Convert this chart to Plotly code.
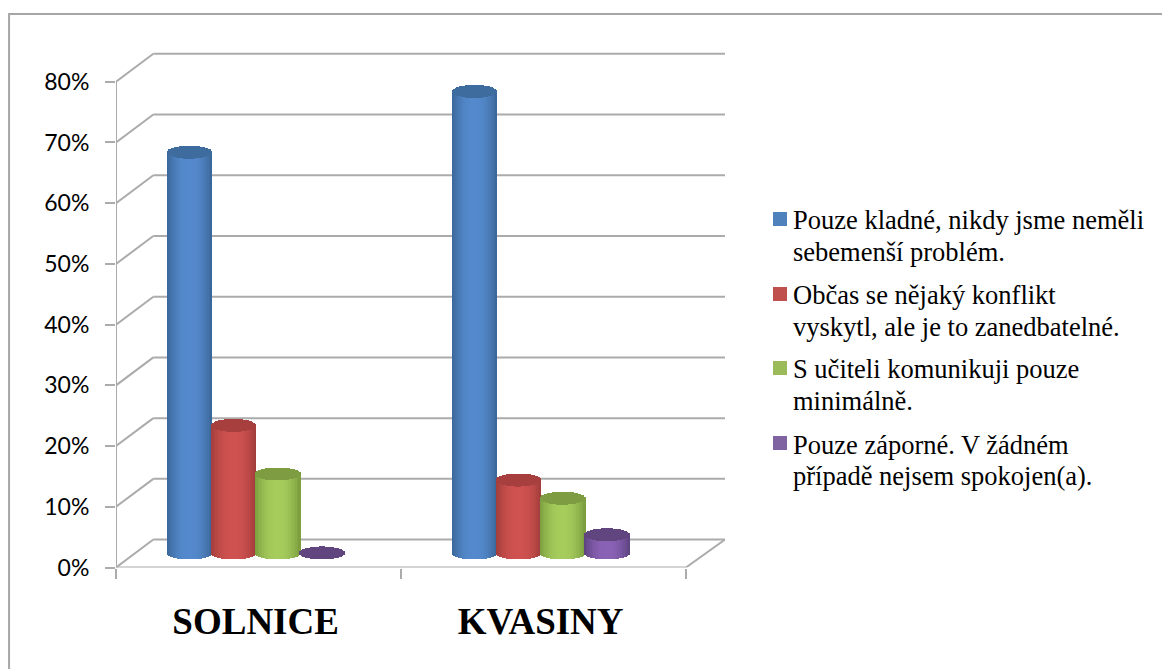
import math
import plotly.graph_objects as go

W, H = 1162, 669

categories = ['SOLNICE', 'KVASINY']
series_lines = [
    ['Pouze kladné, nikdy jsme neměli', 'sebemenší problém.'],
    ['Občas se nějaký konflikt', 'vyskytl, ale je to zanedbatelné.'],
    ['S učiteli komunikuji pouze', 'minimálně.'],
    ['Pouze záporné. V žádném', 'případě nejsem spokojen(a).'],
]
blue_vals = [66, 76]
red_vals = [21, 12]
green_vals = [13, 9]
purple_vals = [0, 3]
y_ticks = [0, 10, 20, 30, 40, 50, 60, 70, 80]

series_vals = [blue_vals, red_vals, green_vals, purple_vals]
# legend, edge, centre, cap
palette = [
    ('#4F81BD', (58, 100, 150), (84, 138, 205), (63, 108, 159)),
    ('#C0504D', (158, 60, 58), (208, 82, 80), (166, 63, 61)),
    ('#9BBB59', (122, 156, 62), (166, 204, 92), (126, 156, 66)),
    ('#8064A2', (92, 66, 126), (138, 98, 181), (96, 69, 127)),
]

# fake 3d geometry in axis units (1 x unit = one category, y unit = percent)
X_MAX = 2.137
Y_MAX = 84.9
DEPTH_X = 0.131
DEPTH_Y = 4.6
GROUP_POS = 0.49
BAR_STEP = 0.155
BAR_R = 0.079
ELL_H = 1.07
BASE = 2.4
N_STRIPS = 30
GRID = '#ababab'

# legend is laid out by hand, plotly centres the key on two line entries
LEGEND_KEY_Y = [219, 294, 368, 443]
LEGEND_TEXT_Y = [[220, 252], [295, 327], [369, 401], [445, 476]]
LEGEND_KEY_X = (773, 787)
LEGEND_TEXT_X = 792


def shade(edge, centre, u):
    t = (1 - abs(u) ** 2.2)
    return 'rgb({},{},{})'.format(*[round(a + (b - a) * t) for a, b in zip(edge, centre)])


fig = go.Figure()

for s, vals in enumerate(series_vals):
    legend_col, edge, centre, cap = palette[s]
    xs = [i + GROUP_POS + (s - 1.5) * BAR_STEP for i in range(len(categories))]
    fig.add_trace(go.Bar(x=xs, y=vals, base=[BASE] * len(vals), width=BAR_R * 2, name=' '.join(series_lines[s]),
                         marker=dict(color=legend_col, line=dict(width=0)), hoverinfo='skip'))
    sx, sy, sb, sc = [], [], [], []
    for x0, v in zip(xs, vals):
        for k in range(N_STRIPS):
            u = -1 + (k + 0.5) * 2 / N_STRIPS
            dy = ELL_H * math.sqrt(1 - u * u)
            # cylinder side, with rounded foot
            if v > 0:
                sx.append(x0 + u * BAR_R)
                sy.append(v)
                sb.append(BASE - dy)
                sc.append(shade(edge, centre, u))
            # top cap
            sx.append(x0 + u * BAR_R)
            sy.append(2 * dy)
            sb.append(BASE + v - dy)
            sc.append('rgb({},{},{})'.format(*cap))
    fig.add_trace(go.Bar(x=sx, y=sy, base=sb, width=BAR_R * 2 / N_STRIPS * 1.4,
                         marker=dict(color=sc, line=dict(width=0)), hoverinfo='skip'))


def wall(x0, y0, x1, y1):
    return dict(type='line', xref='x', yref='y', x0=x0, y0=y0, x1=x1, y1=y1, layer='below',
                line=dict(color=GRID, width=2))


shapes = []
for t in y_ticks:
    shapes.append(wall(0, t, DEPTH_X, t + DEPTH_Y))
    shapes.append(wall(DEPTH_X, t + DEPTH_Y, X_MAX, t + DEPTH_Y))
shapes.append(wall(0, 0, 0, y_ticks[-1]))
shapes.append(wall(0, 0, 2, 0))
shapes.append(wall(2, 0, X_MAX, DEPTH_Y))
# outer frame, only left and top are in the picture
shapes.append(dict(type='path', xref='paper', yref='paper', path='M 0.0078,0 L 0.0078,0.979 L 1,0.979',
                   line=dict(color='#a6a6a6', width=2)))

annotations = []
for s, lines in enumerate(series_lines):
    ky = 1 - LEGEND_KEY_Y[s] / H
    shapes.append(dict(type='rect', xref='paper', yref='paper', x0=LEGEND_KEY_X[0] / W, x1=LEGEND_KEY_X[1] / W,
                       y0=ky - 7 / H, y1=ky + 7 / H, fillcolor=palette[s][0], line=dict(width=0)))
    for line, ly in zip(lines, LEGEND_TEXT_Y[s]):
        annotations.append(dict(text=line, xref='paper', yref='paper', x=LEGEND_TEXT_X / W, y=1 - ly / H,
                                xanchor='left', yanchor='middle', showarrow=False, borderpad=0,
                                font=dict(family='Liberation Serif', size=26.5, color='black')))

fig.update_layout(
    width=W, height=H, autosize=False,
    margin=dict(l=0, r=0, t=0, b=0),
    paper_bgcolor='white', plot_bgcolor='rgba(0,0,0,0)',
    barmode='overlay', bargap=0,
    shapes=shapes, annotations=annotations,
    showlegend=False,
    xaxis=dict(domain=[116 / W, 725 / W], range=[0, X_MAX], showgrid=False, zeroline=False, showline=False,
               automargin=False,
               tickmode='array', tickvals=[i + GROUP_POS for i in range(len(categories))], ticktext=categories,
               ticks='', ticklabelstandoff=28,
               tickfont=dict(family='Liberation Serif', size=37, color='black', weight='bold'),
               minor=dict(tickmode='array', tickvals=[0, 1, 2], ticks='outside', ticklen=10, tickwidth=2, tickcolor=GRID)),
    yaxis=dict(domain=[(H - 567.5) / H, (H - 52) / H], range=[0, Y_MAX], showgrid=False, zeroline=False, showline=False,
               automargin=False,
               tickmode='array', tickvals=y_ticks, ticktext=['{}%'.format(t) for t in y_ticks],
               ticks='outside', ticklen=10, tickwidth=2, tickcolor=GRID, ticklabelstandoff=11,
               tickfont=dict(family='Lato', size=23, color='black')),
)

# page body has a default 8px margin, drop it so the 1162x669 figure fills the window
fig.write_html('out.html', config={'displayModeBar': False}, post_script="document.body.style.margin='0';")
